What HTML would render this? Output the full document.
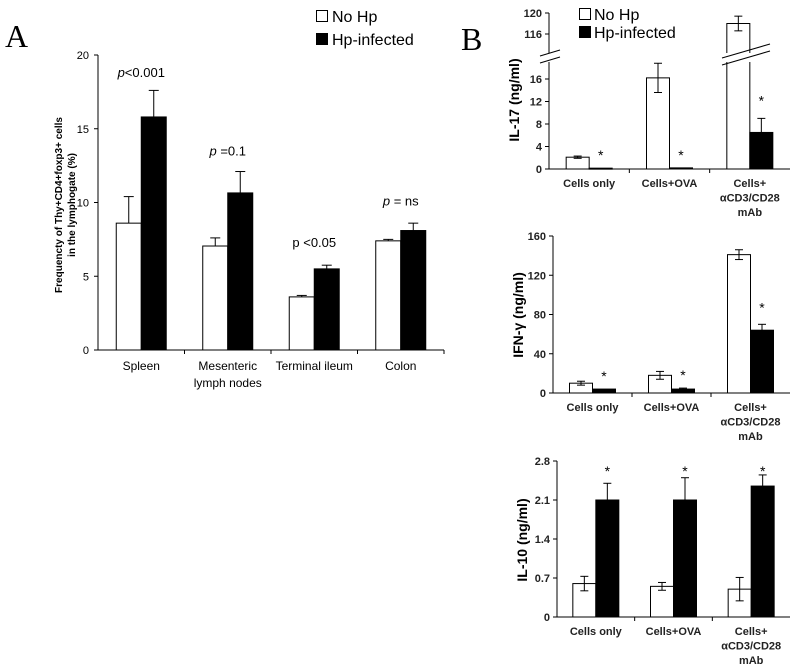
<!DOCTYPE html>
<html><head><meta charset="utf-8"><style>
body{margin:0;background:#fff;width:800px;height:672px;overflow:hidden}
svg{display:block;font-family:"Liberation Sans",Arial,sans-serif}
</style></head><body>
<svg id="fig" width="800" height="672" viewBox="0 0 800 672" xmlns="http://www.w3.org/2000/svg">
<text x="5" y="47" font-family="Liberation Serif,serif" font-size="32">A</text>
<text x="461" y="50" font-family="Liberation Serif,serif" font-size="32">B</text>
<g>
<rect x="316.5" y="10.5" width="11" height="11" fill="#fff" stroke="#000"/>
<text x="332" y="22" font-size="16">No Hp</text>
<rect x="316.5" y="33.5" width="11" height="11" fill="#000" stroke="#000"/>
<text x="332" y="45" font-size="16">Hp-infected</text>
</g>
<g>
<rect x="579.5" y="8.5" width="11" height="11" fill="#fff" stroke="#000"/>
<text x="594" y="20" font-size="16">No Hp</text>
<rect x="579.5" y="26.5" width="11" height="11" fill="#000" stroke="#000"/>
<text x="594" y="38" font-size="16">Hp-infected</text>
</g>
<g id="layer"></g>
</svg>
<script>
// Panel A
const catsA = [["Spleen"],["Mesenteric","lymph nodes"],["Terminal ileum"],["Colon"]];
const aNoHp = [8.6, 7.05, 3.6, 7.4];
const aNoHpErr = [1.8, 0.55, 0.1, 0.1];
const aHp = [15.8, 10.65, 5.5, 8.1];
const aHpErr = [1.8, 1.45, 0.25, 0.5];
const aTicks = [0,5,10,15,20];
const aPLabels = ["<0.001"," =0.1"," <0.05"," = ns"];
const aPVals = [18.5, 13.2, 7.0, 9.8];
// Panel B
const catsB = [["Cells only"],["Cells+OVA"],["Cells+","\u03b1CD3/CD28","mAb"]];
const il17NoHp = [2.1, 16.2, 118];
const il17NoHpErr = [0.2, 2.6, 1.4];
const il17Hp = [0.15, 0.2, 6.5];
const il17HpErr = [0, 0, 2.5];
const il17LowTicks = [0,4,8,12,16];
const il17HighTicks = [116,120];
const ifnNoHp = [10, 18, 141];
const ifnNoHpErr = [2, 4, 5];
const ifnHp = [4, 4, 64];
const ifnHpErr = [0, 1, 6];
const ifnTicks = [0,40,80,120,160];
const il10NoHp = [0.6, 0.55, 0.5];
const il10NoHpErr = [0.13, 0.07, 0.21];
const il10Hp = [2.1, 2.1, 2.35];
const il10HpErr = [0.3, 0.4, 0.2];
const il10Ticks = [0,0.7,1.4,2.1,2.8];
const il10TickLabels = ["0","0.7","1.4","2.1","2.8"];

const NS="http://www.w3.org/2000/svg";
const layer=document.getElementById('layer');
function mk(tag,attrs,parent){const e=document.createElementNS(NS,tag);for(const k in attrs)e.setAttribute(k,attrs[k]);(parent||layer).appendChild(e);return e;}
function line(x1,y1,x2,y2,p){return mk('line',{x1,y1,x2,y2,stroke:'#000','stroke-width':1},p);}
function txt(x,y,s,size,anchor,p,extra){const t=mk('text',Object.assign({x,y,'font-size':size,'text-anchor':anchor||'middle'},extra||{}),p);t.textContent=s;return t;}
function errBar(x,yTop,yBot,cap,p){line(x-cap,yTop,x+cap,yTop,p);if(yBot!==null){line(x,yTop,x,yBot,p);line(x-cap,yBot,x+cap,yBot,p);}}

// ---- Panel A
(function(){
 const g=mk('g',{});
 
 
 const X0=98,X1=444,Y0=350,Y20=55;
 const y=v=>Y0-(v/20)*(Y0-Y20);
 const cw=(X1-X0)/catsA.length;
 const cx=i=>X0+cw*(i+0.5);
 line(X0,y(20),X0,Y0,g);line(X0,Y0,X1,Y0,g);
 aTicks.forEach(t=>{line(X0-4,y(t),X0,y(t),g);const l=txt(X0-9,y(t)+4,String(t),11,'end',g);});
 for(let i=1;i<=catsA.length;i++) line(X0+cw*i,Y0,X0+cw*i,Y0+4,g);
 const bw=25;
 catsA.forEach((c,i)=>{
  const w=mk('rect',{x:cx(i)-bw,y:y(aNoHp[i]),width:bw,height:Y0-y(aNoHp[i]),fill:'#fff',stroke:'#000'},g);
  
  
  errBar(cx(i)-bw/2,y(aNoHp[i]+aNoHpErr[i]),null,5,g);
  line(cx(i)-bw/2,y(aNoHp[i]+aNoHpErr[i]),cx(i)-bw/2,y(aNoHp[i]),g);
  const b=mk('rect',{x:cx(i),y:y(aHp[i]),width:bw,height:Y0-y(aHp[i]),fill:'#000',stroke:'#000'},g);
  
  
  errBar(cx(i)+bw/2,y(aHp[i]+aHpErr[i]),null,5,g);
  line(cx(i)+bw/2,y(aHp[i]+aHpErr[i]),cx(i)+bw/2,y(aHp[i]),g);
  c.forEach((s,k)=>{const l=txt(cx(i),Y0+20+k*17,s,12,'middle',g);});
  const p=mk('text',{x:cx(i),y:y(aPVals[i]),'font-size':13,'text-anchor':'middle'},g);
  
  
  const ps=mk('tspan',{'font-style':i===2?'normal':'italic'},p);ps.textContent='p';
  const pv=mk('tspan',{},p);pv.textContent=aPLabels[i];
 });
 const t=mk('text',{transform:'translate(62,205) rotate(-90)','font-size':10,'font-weight':'bold','text-anchor':'middle'},g);
 
 
 const t1=mk('tspan',{x:0,y:0},t);t1.textContent='Frequencty of Thy+CD4+foxp3+ cells';
 const t2=mk('tspan',{x:0,y:13},t);t2.textContent='in the lymphogate (%)';
})();

// ---- Panel B generic
function panelB(name,opts){
 const g=mk('g',{});
 
 
 const {X0,X1,Y0,y,noHp,noHpErr,hp,hpErr,ticks,tickLabels,title,titleY,starY,topY}=opts;
 line(X0,topY,X0,Y0,g);line(X0,Y0,X1,Y0,g);
 ticks.forEach((t,k)=>{line(X0-4,y(t),X0,y(t),g);const l=txt(X0-7,y(t)+4,tickLabels?tickLabels[k]:String(t),11,'end',g,{'font-weight':'bold','fill':'#222'});});
 const cw=(X1-X0)/catsB.length,cx=i=>X0+cw*(i+0.5),bw=23;
 for(let i=1;i<catsB.length;i++) line(X0+cw*i,Y0,X0+cw*i,Y0+4,g);
 catsB.forEach((c,i)=>{
  const vTop=y(noHp[i]);
  const w=mk('rect',{x:cx(i)-bw,y:vTop,width:bw,height:Y0-vTop,fill:'#fff',stroke:'#000'},g);
  
  
  if(noHpErr[i]>0){errBar(cx(i)-bw/2,y(noHp[i]+noHpErr[i]),y(noHp[i]-noHpErr[i]),4,g);}
  const b=mk('rect',{x:cx(i),y:y(hp[i]),width:bw,height:Math.max(1,Y0-y(hp[i])),fill:'#000',stroke:'#000'},g);
  
  
  if(hpErr[i]>0){errBar(cx(i)+bw/2,y(hp[i]+hpErr[i]),null,4,g);line(cx(i)+bw/2,y(hp[i]+hpErr[i]),cx(i)+bw/2,y(hp[i]),g);}
  const s=txt(cx(i)+bw/2,starY(i),'*',14,'middle',g);
  
  
  c.forEach((s2,k)=>{const l=txt(cx(i),Y0+18+k*14.5,s2,11,'middle',g,{'font-weight':'bold','fill':'#222'});});
 });
 const t=txt(0,0,title,14,'middle',g,{'font-weight':'bold',transform:'translate('+(X0-30)+','+titleY+') rotate(-90)'});
 
 
 return g;
}

// IL-17 with broken axis
(function(){
 const Y0=169,low=v=>Y0-v*(90/16),high=v=>34-(v-116)*(21/4);
 const y=v=>v>100?high(v):low(v);
 const g=panelB('chart-il17',{X0:549,X1:790,Y0,y,noHp:il17NoHp,noHpErr:il17NoHpErr,hp:il17Hp,hpErr:il17HpErr,
  ticks:il17LowTicks.concat(il17HighTicks),title:'IL-17 (ng/ml)',titleY:100,topY:13,
  starY:i=>i===2?y(il17Hp[i]+il17HpErr[i])-13:y(il17Hp[i])-8});
 const wb=mk('rect',{x:540,y:53,width:250,height:9,fill:'#fff'},g);
 
 
 line(540,56,560,50,g);line(540,63,560,57,g);
 line(722,58,770,44,g);line(722,65,770,51,g);
})();

(function(){
 const Y0=393,y=v=>Y0-v*(157/160);
 panelB('chart-ifn',{X0:553,X1:790,Y0,y,noHp:ifnNoHp,noHpErr:ifnNoHpErr,hp:ifnHp,hpErr:ifnHpErr,
  ticks:ifnTicks,title:'IFN-\u03b3 (ng/ml)',titleY:315,topY:236,
  starY:i=>i===2?y(ifnHp[i]+ifnHpErr[i])-12:y(ifnHp[i]+ifnHpErr[i])-8});
})();

(function(){
 const Y0=617,y=v=>Y0-v*(156/2.8);
 panelB('chart-il10',{X0:557,X1:790,Y0,y,noHp:il10NoHp,noHpErr:il10NoHpErr,hp:il10Hp,hpErr:il10HpErr,
  ticks:il10Ticks,tickLabels:il10TickLabels,title:'IL-10 (ng/ml)',titleY:540,topY:461,
  starY:i=>476});
})();
</script>
</body></html>
